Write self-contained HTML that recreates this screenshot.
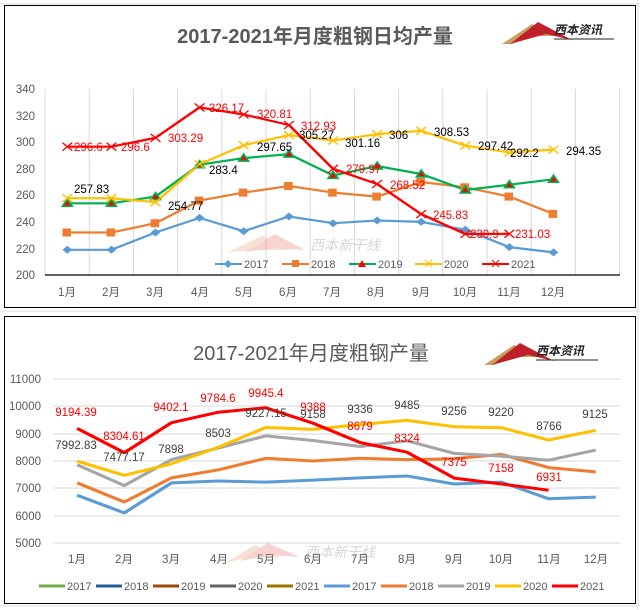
<!DOCTYPE html>
<html><head><meta charset="utf-8"><style>
body{margin:0;width:640px;height:610px;background:#fff;overflow:hidden}
svg{display:block;font-family:"Liberation Sans","Noto Sans CJK SC",sans-serif}
</style></head><body>
<svg width="640" height="610" viewBox="0 0 640 610">
<g stroke="#dcdcdc" stroke-width="1">
<line x1="0" y1="4" x2="640" y2="4"/><line x1="0" y1="311" x2="640" y2="311"/><line x1="0" y1="606" x2="640" y2="606"/>
<line x1="638" y1="0" x2="638" y2="610"/>
</g>
<!-- panel 1 -->
<rect x="4.5" y="5.5" width="631" height="302" fill="#fff" stroke="#000"/>
<text x="315" y="43" font-size="20" font-weight="bold" fill="#595959" text-anchor="middle">2017-2021年月度粗钢日均产量</text>
<g transform="translate(502,20)">
<polygon points="0,24 30,4 52,16 38,16 30,10 10,24" fill="#c8a060"/>
<polygon points="8,24 36,2 70,20 44,14" fill="#c0202a"/>
<text x="52" y="14" font-size="12" font-weight="bold" font-style="italic" fill="#222">西本资讯</text>
<line x1="52" y1="19" x2="112" y2="19" stroke="#222"/>
</g>
<g stroke="#d9d9d9" stroke-width="1">
<line x1="45" y1="89" x2="45" y2="275"/><line x1="89.2" y1="89" x2="89.2" y2="275"/><line x1="133.4" y1="89" x2="133.4" y2="275"/><line x1="177.6" y1="89" x2="177.6" y2="275"/><line x1="221.8" y1="89" x2="221.8" y2="275"/><line x1="266" y1="89" x2="266" y2="275"/><line x1="310.2" y1="89" x2="310.2" y2="275"/><line x1="354.4" y1="89" x2="354.4" y2="275"/><line x1="398.6" y1="89" x2="398.6" y2="275"/><line x1="442.8" y1="89" x2="442.8" y2="275"/><line x1="487" y1="89" x2="487" y2="275"/><line x1="531.2" y1="89" x2="531.2" y2="275"/><line x1="575.4" y1="89" x2="575.4" y2="275"/><line x1="619.6" y1="89" x2="619.6" y2="275"/>
</g>
<line x1="45" y1="275" x2="620" y2="275" stroke="#000" stroke-width="1.2"/>
<g font-size="11.5" fill="#595959" text-anchor="end">
<text x="35" y="93">340</text><text x="35" y="120">320</text><text x="35" y="146">300</text><text x="35" y="173">280</text><text x="35" y="199">260</text><text x="35" y="226">240</text><text x="35" y="253">220</text><text x="35" y="279">200</text>
</g>
<g font-size="11.5" fill="#595959" text-anchor="middle">
<text x="67" y="296">1月</text><text x="111" y="296">2月</text><text x="155" y="296">3月</text><text x="200" y="296">4月</text><text x="244" y="296">5月</text><text x="288" y="296">6月</text><text x="332" y="296">7月</text><text x="376" y="296">8月</text><text x="421" y="296">9月</text><text x="465" y="296">10月</text><text x="509" y="296">11月</text><text x="553" y="296">12月</text>
</g>
<g opacity="0.35"><polygon points="228,252 262,236 290,250 255,250" fill="#e0b080"/><polygon points="245,252 275,234 305,250 275,248" fill="#f08080"/><text x="310" y="250" font-size="14" fill="#888" font-style="italic">西本新干线</text></g>
<g transform="scale(1.2245,1)">
<g fill="none" stroke-width="2.2" stroke-linejoin="round" vector-effect="non-scaling-stroke">
<polyline stroke="#5b9bd5" points="55,249.8 91,249.8 127,232.5 163,217.9 199,231.2 236,216.5 272,223.2 308,220.5 344,221.9 380,229.8 416,247.1 452,252.4"/>
<polyline stroke="#ed7d31" points="55,232.5 91,232.5 127,223.2 163,200.6 199,192.6 236,186 272,192.6 308,196.6 344,182 380,187.3 416,196.6 452,213.9"/>
<polyline stroke="#00b050" points="55,203.3 91,203.3 127,196.6 163,164.7 199,158.1 236,154.1 272,175.4 308,166.1 344,174 380,190 416,184.7 452,179.3"/>
<polyline stroke="#ffc000" points="55,198.2 91,198.2 127,202.2 163,164.2 199,145.3 236,135.1 272,140.6 308,134.2 344,130.8 380,145.6 416,152.5 452,149.6"/>
<polyline stroke="#ff0000" points="55,146.7 91,146.7 127,137.8 163,107.4 199,114.5 236,125 272,168.8 308,184 344,214.1 380,234 416,233.8"/>
</g>
<g fill="#5b9bd5">
<path d="M55,245.8l4,4-4,4-4-4z"/><path d="M91,245.8l4,4-4,4-4-4z"/><path d="M127,228.5l4,4-4,4-4-4z"/><path d="M163,213.9l4,4-4,4-4-4z"/><path d="M199,227.2l4,4-4,4-4-4z"/><path d="M236,212.5l4,4-4,4-4-4z"/><path d="M272,219.2l4,4-4,4-4-4z"/><path d="M308,216.5l4,4-4,4-4-4z"/><path d="M344,217.9l4,4-4,4-4-4z"/><path d="M380,225.8l4,4-4,4-4-4z"/><path d="M416,243.1l4,4-4,4-4-4z"/><path d="M452,248.4l4,4-4,4-4-4z"/>
</g>
<g fill="#ed7d31">
<rect x="51" y="228.5" width="7" height="8"/><rect x="87" y="228.5" width="7" height="8"/><rect x="123" y="219.2" width="7" height="8"/><rect x="159" y="196.6" width="7" height="8"/><rect x="195" y="188.6" width="7" height="8"/><rect x="232" y="182" width="7" height="8"/><rect x="268" y="188.6" width="7" height="8"/><rect x="304" y="192.6" width="7" height="8"/><rect x="340" y="178" width="7" height="8"/><rect x="376" y="183.3" width="7" height="8"/><rect x="412" y="192.6" width="7" height="8"/><rect x="448" y="209.9" width="7" height="8"/>
</g>
<g fill="#ff0000" stroke="#00b050" stroke-width="1.5">
<path d="M55,199.3l4,7h-8z"/><path d="M91,199.3l4,7h-8z"/><path d="M127,192.6l4,7h-8z"/><path d="M163,160.7l4,7h-8z"/><path d="M199,154.1l4,7h-8z"/><path d="M236,150.1l4,7h-8z"/><path d="M272,171.4l4,7h-8z"/><path d="M308,162.1l4,7h-8z"/><path d="M344,170l4,7h-8z"/><path d="M380,186l4,7h-8z"/><path d="M416,180.7l4,7h-8z"/><path d="M452,175.3l4,7h-8z"/>
</g>
<g stroke="#ffc000" stroke-width="1.3">
<path d="M51,194.2l8,8m0-8l-8,8M87,194.2l8,8m0-8l-8,8M123,198.2l8,8m0-8l-8,8M159,160.2l8,8m0-8l-8,8M195,141.3l8,8m0-8l-8,8M232,131.1l8,8m0-8l-8,8M268,136.6l8,8m0-8l-8,8M304,130.2l8,8m0-8l-8,8M340,126.8l8,8m0-8l-8,8M376,141.6l8,8m0-8l-8,8M412,148.5l8,8m0-8l-8,8M448,145.6l8,8m0-8l-8,8"/>
</g>
<g stroke="#ff0000" stroke-width="1.2">
<path d="M51,142.7l8,8m0-8l-8,8M87,142.7l8,8m0-8l-8,8M123,133.8l8,8m0-8l-8,8M159,103.4l8,8m0-8l-8,8M195,110.5l8,8m0-8l-8,8M232,121l8,8m0-8l-8,8M268,164.8l8,8m0-8l-8,8M304,180l8,8m0-8l-8,8M340,210.1l8,8m0-8l-8,8M376,230l8,8m0-8l-8,8M412,229.8l8,8m0-8l-8,8"/>
</g>
</g>
<g font-size="11.5" fill="#ff0000">
<text x="74" y="151">296.6</text><text x="121" y="151">296.6</text><text x="168" y="142">303.29</text><text x="209" y="112">326.17</text><text x="257" y="118">320.81</text><text x="301" y="130">312.93</text><text x="346" y="173">279.97</text><text x="390" y="189">268.52</text><text x="433" y="219">245.83</text><text x="470" y="238">230.9</text><text x="515" y="238">231.03</text>
</g>
<g font-size="11.5" fill="#000">
<text x="74" y="193">257.83</text><text x="168" y="210">254.77</text><text x="209" y="174">283.4</text><text x="257" y="151">297.65</text><text x="299" y="139">305.27</text><text x="345" y="147">301.16</text><text x="389" y="139">306</text><text x="434" y="136">308.53</text><text x="478" y="150">297.42</text><text x="510" y="157">292.2</text><text x="566" y="155">294.35</text>
</g>
<g font-size="11" fill="#595959">
<line x1="215" y1="264" x2="242" y2="264" stroke="#5b9bd5" stroke-width="2"/><path d="M228,260l4,4-4,4-4-4z" fill="#5b9bd5"/><text x="244" y="268">2017</text>
<line x1="282" y1="264" x2="309" y2="264" stroke="#ed7d31" stroke-width="2"/><rect x="292" y="260" width="7" height="7" fill="#ed7d31"/><text x="311" y="268">2018</text>
<line x1="349" y1="264" x2="376" y2="264" stroke="#00b050" stroke-width="2"/><path d="M362,260l4,7h-8z" fill="#ff0000"/><text x="378" y="268">2019</text>
<line x1="415" y1="264" x2="442" y2="264" stroke="#ffc000" stroke-width="2"/><path d="M425,260l7,7m0-7l-7,7" stroke="#ffc000"/><text x="444" y="268">2020</text>
<line x1="482" y1="264" x2="509" y2="264" stroke="#ff0000" stroke-width="2"/><path d="M492,260l7,7m0-7l-7,7" stroke="#ff0000"/><text x="511" y="268">2021</text>
</g>

<!-- panel 2 -->
<rect x="4.5" y="316.5" width="631" height="287" fill="#fff" stroke="#000"/>
<text x="311" y="360" font-size="20" fill="#595959" text-anchor="middle">2017-2021年月度粗钢产量</text>
<g transform="translate(484,341)">
<polygon points="0,24 30,4 52,16 38,16 30,10 10,24" fill="#c8a060"/>
<polygon points="8,24 36,2 70,20 44,14" fill="#c0202a"/>
<text x="52" y="14" font-size="12" font-weight="bold" font-style="italic" fill="#222">西本资讯</text>
<line x1="52" y1="19" x2="114" y2="19" stroke="#222"/>
</g>
<g stroke="#d9d9d9">
<line x1="53" y1="379" x2="620" y2="379"/><line x1="53" y1="406" x2="620" y2="406"/><line x1="53" y1="434" x2="620" y2="434"/><line x1="53" y1="461" x2="620" y2="461"/><line x1="53" y1="488" x2="620" y2="488"/><line x1="53" y1="516" x2="620" y2="516"/><line x1="53" y1="543" x2="620" y2="543"/>
</g>
<g font-size="11.5" fill="#595959" text-anchor="end">
<text x="41" y="383">11000</text><text x="41" y="410">10000</text><text x="41" y="438">9000</text><text x="41" y="465">8000</text><text x="41" y="492">7000</text><text x="41" y="520">6000</text><text x="41" y="547">5000</text>
</g>
<g font-size="11.5" fill="#595959" text-anchor="middle">
<text x="77" y="563">1月</text><text x="124" y="563">2月</text><text x="171" y="563">3月</text><text x="219" y="563">4月</text><text x="266" y="563">5月</text><text x="313" y="563">6月</text><text x="360" y="563">7月</text><text x="407" y="563">8月</text><text x="454" y="563">9月</text><text x="501" y="563">10月</text><text x="549" y="563">11月</text><text x="596" y="563">12月</text>
</g>
<g opacity="0.35"><polygon points="225,563 255,545 280,557 250,557" fill="#e0b080"/><polygon points="240,561 268,543 300,557 270,555" fill="#f08080"/><text x="305" y="557" font-size="14" fill="#888" font-style="italic">西本新干线</text></g>
<g transform="scale(1.2245,1)" fill="none" stroke-width="3" stroke-linejoin="round">
<polyline stroke="#5b9bd5" points="63,495.2 101.5,512.9 140,482.9 178.5,481 217,482.1 255.5,480.1 294,477.9 332.5,476 371,484 409.5,482.1 448,498.7 486.5,497.1"/>
<polyline stroke="#ed7d31" points="63,482.9 101.5,502 140,477.9 178.5,469.8 217,458.3 255.5,461 294,458.3 332.5,459.6 371,458.8 409.5,454.4 448,467.6 486.5,471.9"/>
<polyline stroke="#a5a5a5" points="63,464.8 101.5,485.6 140,459.6 178.5,447.9 217,435.9 255.5,440.5 294,446.5 332.5,440.8 371,453.4 409.5,456.1 448,460.2 486.5,450.1"/>
<polyline stroke="#ffc000" points="63,461.2 101.5,475.3 140,463.8 178.5,447.2 217,427.5 255.5,429.4 294,424.5 332.5,420.4 371,426.7 409.5,427.7 448,440.1 486.5,430.3"/>
<polyline stroke="#ff0000" points="63,428.4 101.5,452.7 140,422.7 178.5,412.2 217,407.8 255.5,423.1 294,442.5 332.5,452.2 371,478.1 409.5,484 448,490.2"/>
</g>
<g font-size="11.5" text-anchor="middle" fill="#ff0000">
<text x="76" y="416">9194.39</text><text x="124" y="440">8304.61</text><text x="171" y="411">9402.1</text><text x="218" y="402">9784.6</text><text x="266" y="397">9945.4</text><text x="313" y="411">9388</text><text x="360" y="430">8679</text><text x="407" y="442">8324</text><text x="454" y="466">7375</text><text x="501" y="472">7158</text><text x="549" y="481">6931</text>
</g>
<g font-size="11.5" text-anchor="middle" fill="#404040">
<text x="76" y="449">7992.83</text><text x="124" y="461">7477.17</text><text x="171" y="453">7898</text><text x="218" y="437">8503</text><text x="266" y="417">9227.15</text><text x="313" y="418">9158</text><text x="360" y="413">9336</text><text x="407" y="409">9485</text><text x="454" y="415">9256</text><text x="501" y="416">9220</text><text x="549" y="430">8766</text><text x="595" y="418">9125</text>
</g>
<g font-size="11" fill="#595959" stroke-width="3">
<line x1="39" y1="586" x2="65" y2="586" stroke="#70ad47"/><text x="67" y="590">2017</text>
<line x1="96" y1="586" x2="122" y2="586" stroke="#255e91"/><text x="124" y="590">2018</text>
<line x1="153" y1="586" x2="179" y2="586" stroke="#9e480e"/><text x="181" y="590">2019</text>
<line x1="210" y1="586" x2="236" y2="586" stroke="#636363"/><text x="238" y="590">2020</text>
<line x1="267" y1="586" x2="293" y2="586" stroke="#997300"/><text x="295" y="590">2021</text>
<line x1="324" y1="586" x2="350" y2="586" stroke="#5b9bd5"/><text x="352" y="590">2017</text>
<line x1="381" y1="586" x2="407" y2="586" stroke="#ed7d31"/><text x="409" y="590">2018</text>
<line x1="438" y1="586" x2="464" y2="586" stroke="#a5a5a5"/><text x="466" y="590">2019</text>
<line x1="495" y1="586" x2="521" y2="586" stroke="#ffc000"/><text x="523" y="590">2020</text>
<line x1="552" y1="586" x2="578" y2="586" stroke="#ff0000"/><text x="580" y="590">2021</text>
</g>
</svg>
</body></html>
